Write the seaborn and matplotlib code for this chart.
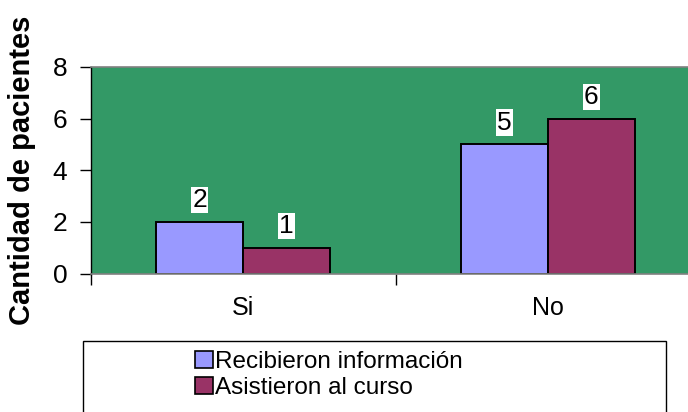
import matplotlib
matplotlib.use("Agg")
import matplotlib.pyplot as plt
from matplotlib.patches import Patch, Rectangle
import pandas as pd
import seaborn as sns

categories = ["Si", "No"]
series_names = ["Recibieron información", "Asistieron al curso"]
recibieron = [2, 5]
asistieron = [1, 6]
colors = ["#9999FF", "#993366"]
y_ticks = [0, 2, 4, 6, 8]

df = pd.DataFrame({
    "categoria": categories * 2,
    "serie": [series_names[0]] * len(categories) + [series_names[1]] * len(categories),
    "valor": recibieron + asistieron,
})

sns.set_style("white")
plt.rcParams["font.family"] = ["Liberation Sans", "DejaVu Sans"]
plt.rcParams["text.color"] = "black"
plt.rcParams["xtick.color"] = "black"
plt.rcParams["ytick.color"] = "black"
plt.rcParams["axes.labelcolor"] = "black"

fig = plt.figure(figsize=(6.88, 4.12), dpi=100)
ax = fig.add_axes([91 / 688, 138.5 / 412, 609 / 688, 206.5 / 412])
ax.set_facecolor("#339966")

sns.barplot(data=df, x="categoria", y="valor", hue="serie", order=categories,
            hue_order=series_names, palette=colors, width=0.572, gap=0,
            edgecolor="black", linewidth=1.4, saturation=1, ax=ax, legend=False)

for container in ax.containers:
    ax.bar_label(container, fmt="%d", padding=7, fontsize=19, color="black",
                 bbox=dict(boxstyle="square,pad=0.05", facecolor="white", edgecolor="none"))

ax.set_xlim(-0.5, 1.5)
ax.set_ylim(0, 8)
ax.set_yticks(y_ticks)
ax.tick_params(axis="y", direction="out", length=8, width=1, color="black",
               labelsize=19, pad=9, left=True, labelcolor="black")
ax.set_xticks([0, 1])
ax.set_xticklabels(categories)
ax.set_xticks([-0.5, 0.5, 1.5], minor=True)
ax.tick_params(axis="x", which="major", length=0, labelsize=18, pad=16, labelcolor="black")
ax.tick_params(axis="x", which="minor", direction="out", length=8, width=1,
               color="black", bottom=True)
ax.set_xlabel("")
ax.set_ylabel("Cantidad de pacientes", fontsize=21, fontweight="bold", color="black")
ax.yaxis.set_label_coords(-0.090, 0.5)

for side in ["top", "bottom"]:
    ax.spines[side].set_color("#808080")
    ax.spines[side].set_linewidth(1.2)
ax.spines["left"].set_color("black")
ax.spines["left"].set_linewidth(1)
ax.spines["right"].set_visible(False)

# Legend frame runs off the bottom of the figure
fig.patches.append(Rectangle((83 / 688, -0.05), (666 - 83) / 688, (412 - 341) / 412 + 0.05,
                             transform=fig.transFigure, facecolor="white",
                             edgecolor="black", linewidth=1, zorder=0))

handles = [Patch(facecolor=c, edgecolor="black", linewidth=1.2) for c in colors]
fig.legend(handles, series_names, loc="upper left", bbox_to_anchor=(195 / 688, 1 - 351 / 412),
           frameon=False, fontsize=17.5, handlelength=0.72, handleheight=0.72,
           handletextpad=0.12, labelspacing=0.14, borderpad=0, borderaxespad=0,
           labelcolor="black")

fig.savefig("out.png", dpi=100)
